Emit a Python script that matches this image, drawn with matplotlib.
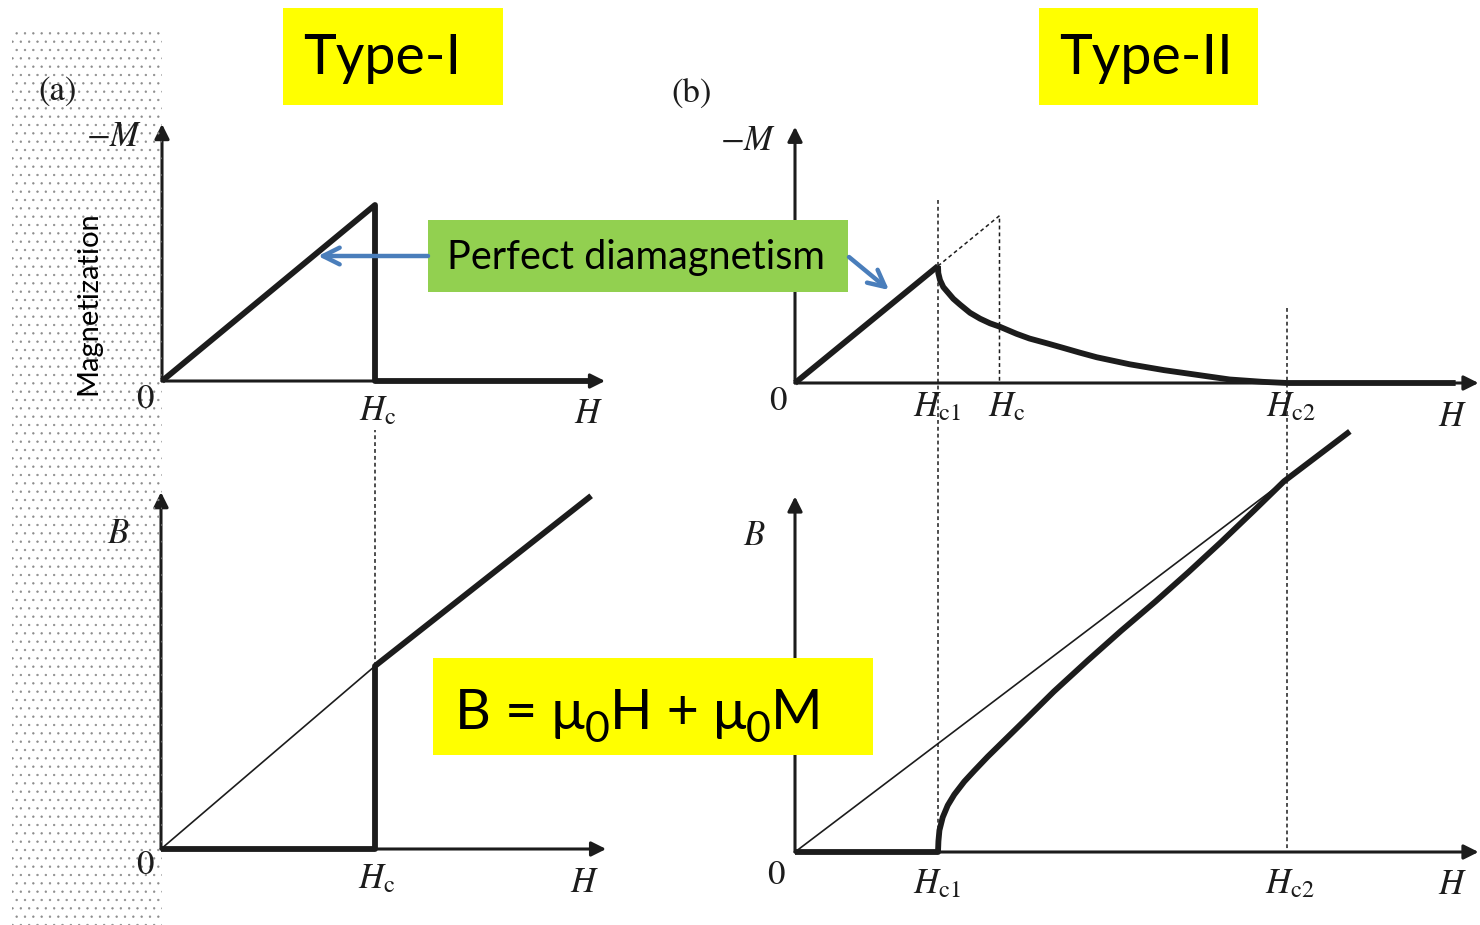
import matplotlib.pyplot as plt
from matplotlib.patches import Rectangle

W, HGT = 1480, 925

# ---- Type-I: fields in units of Hc ----
t1_m_h = [0.0, 1.0, 1.0, 2.0]
t1_m = [0.0, 1.0, 0.0, 0.0]
t1_b_h = [0.0, 1.0, 1.0, 2.01]
t1_b = [0.0, 0.0, 1.0, 1.93]
t1_vac_h = [0.0, 1.0]
t1_vac_b = [0.0, 1.0]
t1_hc = 1.0

# ---- Type-II: fields in units of Hc1 ----
t2_hc1, t2_hc, t2_hc2 = 1.0, 1.43, 3.44
t2_meiss_h = [0.0, 1.0]
t2_meiss_m = [0.0, 1.0]
t2_mix_h = [1.0, 1.002, 1.014, 1.037, 1.072, 1.107, 1.154, 1.224, 1.294, 1.364,
            1.434, 1.55, 1.64, 1.76, 1.876, 1.99, 2.11, 2.34, 2.58, 2.81, 3.04,
            3.27, 3.44, 4.62]
t2_mix_m = [1.0, 0.94, 0.88, 0.82, 0.77, 0.72, 0.67, 0.60, 0.55, 0.51,
            0.48, 0.42, 0.38, 0.34, 0.30, 0.26, 0.22, 0.16, 0.11, 0.07, 0.03,
            0.01, 0.0, 0.0]
t2_b_h = [0.0, 1.0, 1.0, 1.003, 1.01, 1.033, 1.068, 1.114, 1.184, 1.254, 1.348,
          1.464, 1.58, 1.81, 2.05, 2.28, 2.52, 2.75, 2.98, 3.21, 3.42, 3.88]
t2_b = [0.0, 0.0, 0.0, 0.10, 0.20, 0.32, 0.43, 0.53, 0.65, 0.75, 0.88,
        1.03, 1.18, 1.48, 1.77, 2.04, 2.31, 2.58, 2.86, 3.15, 3.42, 3.88]
t2_vac_h = [0.0, 3.42]
t2_vac_b = [0.0, 3.42]

INK = "#1c1c1c"
BLUE = "#4A7EBB"

plt.rcParams["mathtext.fontset"] = "stix"
plt.rcParams["font.family"] = ["STIXGeneral", "DejaVu Serif"]
plt.rcParams["hatch.linewidth"] = 0.45
plt.rcParams["hatch.color"] = "#8c8c8c"

fig = plt.figure(figsize=(W / 100, HGT / 100), dpi=100)


def panel(ox, oy, sx, sy, xmax, ymax):
    # origin (ox, oy) in pixels from the top-left, sx/sy pixels per unit
    ax = fig.add_axes([ox / W, (HGT - oy) / HGT, xmax * sx / W, ymax * sy / HGT])
    ax.set_xlim(0, xmax)
    ax.set_ylim(0, ymax)
    ax.axis("off")
    arrow = dict(arrowstyle="-|>", color=INK, lw=2.2, mutation_scale=22,
                 shrinkA=0, shrinkB=0)
    ax.annotate("", xy=(xmax, 0), xytext=(0, 0), arrowprops=arrow,
                annotation_clip=False)
    ax.annotate("", xy=(0, ymax), xytext=(0, 0), arrowprops=arrow,
                annotation_clip=False)
    return ax


thick = dict(color=INK, lw=4.2, solid_capstyle="butt", solid_joinstyle="round",
             clip_on=False, zorder=3)
thin = dict(color=INK, lw=1.2, clip_on=False, zorder=2)
dots = dict(color=INK, lw=1.1, ls=(0, (2.5, 2.0)), clip_on=False, zorder=1)

# (a) Type-I magnetisation
ax1 = panel(162, 381, 213, 176, 2.08, 1.46)
ax1.plot(t1_m_h, t1_m, **thick)

# (a) Type-I induction
ax2 = panel(161, 849, 214, 183, 2.08, 1.95)
ax2.plot(t1_vac_h, t1_vac_b, **thin)
ax2.plot(t1_b_h, t1_b, **thick)
ax2.plot([t1_hc, t1_hc], [1.0, 2.29], **dots)

# (b) Type-II magnetisation
ax3 = panel(795, 383, 143, 117, 4.78, 2.19)
ax3.plot(t2_meiss_h, t2_meiss_m, **thick)
ax3.plot(t2_mix_h, t2_mix_m, **thick)
ax3.plot([t2_hc1, t2_hc, t2_hc], [t2_hc1, t2_hc, 0.0], **dots)
ax3.plot([t2_hc1, t2_hc1], [1.56, -4.0], **dots)
ax3.plot([t2_hc2, t2_hc2], [0.64, -4.0], **dots)

# (b) Type-II induction
ax4 = panel(795, 852, 143, 108.4, 4.78, 3.28)
ax4.plot(t2_vac_h, t2_vac_b, **thin)
ax4.plot(t2_b_h, t2_b, **thick)

# overlay in pixel coordinates for labels and callouts
ov = fig.add_axes([0, 0, 1, 1], zorder=10)
ov.set_xlim(0, W)
ov.set_ylim(HGT, 0)
ov.axis("off")

# scanned-paper stipple on the left margin
ov.add_patch(Rectangle((12, 30), 150, 895, facecolor="none", edgecolor="#8c8c8c",
                       hatch="..", lw=0, zorder=0))

lab = dict(color=INK, fontsize=25, ha="center", va="center")
ov.text(58, 92, "(a)", **lab)
ov.text(692, 94, "(b)", **lab)
ov.text(114, 138, r"$-M$", **lab)
ov.text(748, 142, r"$-M$", **lab)
ov.text(118, 535, r"$B$", **lab)
ov.text(754, 537, r"$B$", **lab)
for x, y in [(145, 400), (145, 866), (778, 402), (776, 876)]:
    ov.text(x, y, "0", **lab)
for x, y in [(588, 415), (585, 884), (1452, 418), (1452, 886)]:
    ov.text(x, y, r"$H$", **lab)
ov.text(378, 412, r"$H_{\mathrm{c}}$", **lab)
ov.text(377, 880, r"$H_{\mathrm{c}}$", **lab)
ov.text(937, 408, r"$H_{\mathrm{c1}}$", **lab)
ov.text(1007, 408, r"$H_{\mathrm{c}}$", **lab)
ov.text(1291, 408, r"$H_{\mathrm{c2}}$", **lab)
ov.text(937, 885, r"$H_{\mathrm{c1}}$", **lab)
ov.text(1290, 885, r"$H_{\mathrm{c2}}$", **lab)

sans = ["Lato", "DejaVu Sans"]
ov.text(88, 303, "Magnetization", rotation=90, ha="center", va="center",
        fontsize=21, family=sans, color="black")

ov.add_patch(Rectangle((283, 8), 220, 97, facecolor="#FFFF00", lw=0))
ov.text(382, 58, "Type-I", ha="center", va="center", fontsize=40,
        family=sans, color="black")
ov.add_patch(Rectangle((1039, 8), 219, 97, facecolor="#FFFF00", lw=0))
ov.text(1146, 58, "Type-II", ha="center", va="center", fontsize=40,
        family=sans, color="black")

ov.add_patch(Rectangle((428, 220), 420, 72, facecolor="#92D050", lw=0))
ov.text(636, 257, "Perfect diamagnetism", ha="center", va="center",
        fontsize=28.5, family=sans, color="black")

# equation written piece by piece so the subscripts sit low and large
ov.add_patch(Rectangle((433, 658), 440, 97, facecolor="#FFFF00", lw=0))
renderer = fig.canvas.get_renderer()
x = 455
for piece, size, base in [("B = μ", 40, 729), ("0", 31, 742), ("H + μ", 40, 729),
                          ("0", 31, 742), ("M", 40, 729)]:
    t = ov.text(x, base, piece, fontsize=size, va="baseline", ha="left",
                family=sans, color="black")
    x += t.get_window_extent(renderer=renderer).width

blue = dict(arrowstyle="->", color=BLUE, lw=3.2, mutation_scale=30,
            shrinkA=0, shrinkB=0)
ov.annotate("", xy=(318, 256), xytext=(428, 256), arrowprops=blue)
ov.annotate("", xy=(889, 290), xytext=(849, 257), arrowprops=blue)

fig.savefig("out.png", dpi=100)
